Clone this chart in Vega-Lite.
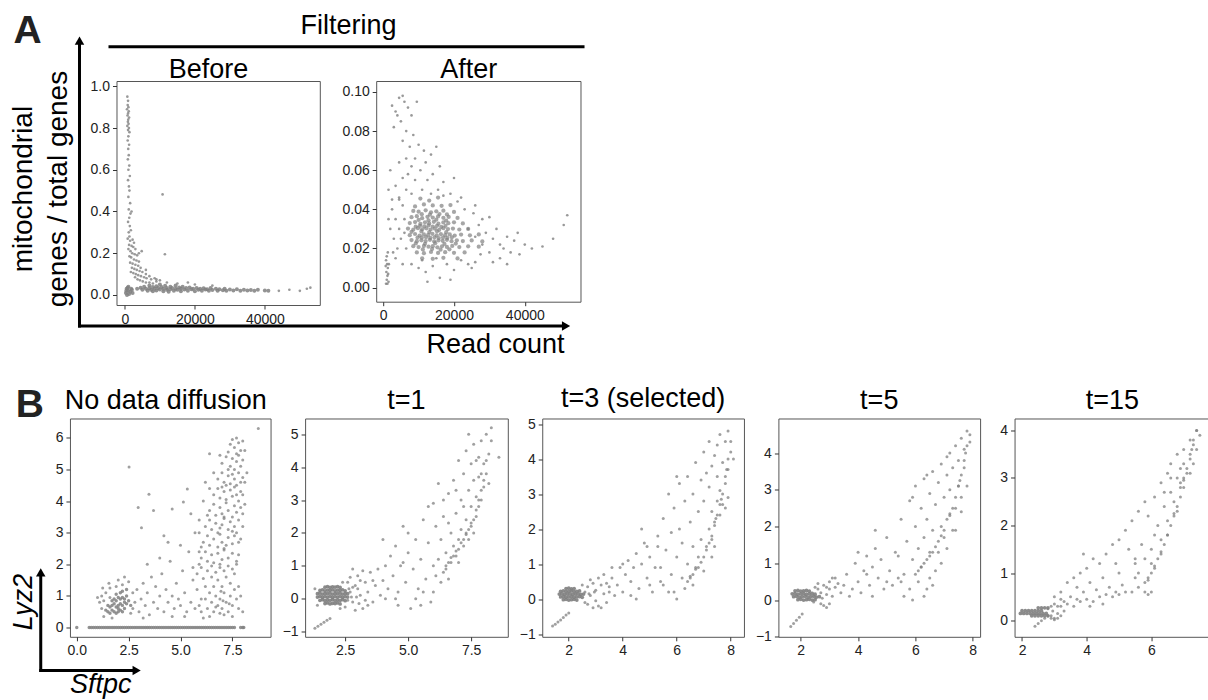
{
"$schema": "https://vega.github.io/schema/vega-lite/v6.json",
"background": "white",
"padding": {"left": 8.8, "top": 11, "right": 0, "bottom": 0},
"config": {
 "view": {"stroke": "#555", "strokeWidth": 1},
 "axis": {"grid": false, "domain": false, "labelFont": "Liberation Sans", "labelFontSize": 14, "labelColor": "#222", "tickColor": "#333", "tickSize": 4, "labelPadding": 3},
 "title": {"font": "Liberation Sans", "fontSize": 27, "fontWeight": "normal", "color": "#000", "frame": "group", "anchor": "middle"},
 "text": {"font": "Liberation Sans", "color": "#000"}
},
"datasets": {
 "bef_s": [{"x":700,"y":0.95},{"x":900,"y":0.93},{"x":800,"y":0.91},{"x":1000,"y":0.9},{"x":600,"y":0.89},{"x":1100,"y":0.88},{"x":900,"y":0.87},{"x":750,"y":0.86},{"x":1200,"y":0.85},{"x":950,"y":0.84},{"x":850,"y":0.83},{"x":1050,"y":0.82},{"x":700,"y":0.81},{"x":1150,"y":0.8},{"x":900,"y":0.79},{"x":1300,"y":0.78},{"x":1000,"y":0.76},{"x":800,"y":0.74},{"x":1200,"y":0.72},{"x":950,"y":0.7},{"x":1100,"y":0.67},{"x":850,"y":0.65},{"x":1250,"y":0.62},{"x":1000,"y":0.6},{"x":1400,"y":0.57},{"x":900,"y":0.55},{"x":1150,"y":0.52},{"x":1300,"y":0.5},{"x":1000,"y":0.47},{"x":1500,"y":0.44},{"x":1100,"y":0.41},{"x":1600,"y":0.39},{"x":1250,"y":0.37},{"x":900,"y":0.35},{"x":1400,"y":0.33},{"x":1700,"y":0.31},{"x":1100,"y":0.3},{"x":1300,"y":0.28},{"x":1900,"y":0.4},
 {"x":800,"y":0.27},{"x":1500,"y":0.26},{"x":2200,"y":0.265},{"x":2600,"y":0.25},{"x":1200,"y":0.24},{"x":1900,"y":0.235},{"x":2400,"y":0.23},{"x":1000,"y":0.22},{"x":3000,"y":0.22},{"x":1600,"y":0.21},{"x":2100,"y":0.2},{"x":2800,"y":0.195},{"x":3500,"y":0.19},{"x":1300,"y":0.185},{"x":1800,"y":0.18},{"x":2600,"y":0.17},{"x":3300,"y":0.165},{"x":4000,"y":0.16},{"x":1500,"y":0.155},{"x":2200,"y":0.15},{"x":3000,"y":0.145},{"x":3800,"y":0.14},{"x":4500,"y":0.13},{"x":2000,"y":0.13},{"x":2700,"y":0.125},{"x":3400,"y":0.12},{"x":4200,"y":0.115},{"x":5000,"y":0.11},{"x":1700,"y":0.11},{"x":2400,"y":0.105},{"x":3100,"y":0.1},{"x":3800,"y":0.095},{"x":4600,"y":0.09},{"x":5500,"y":0.085},{"x":6200,"y":0.08},{"x":2900,"y":0.085},{"x":3600,"y":0.075},{"x":4300,"y":0.07},{"x":5100,"y":0.065},{"x":6000,"y":0.06},{"x":7000,"y":0.06},{"x":8000,"y":0.055},{"x":4000,"y":0.2},{"x":4800,"y":0.21},{"x":6000,"y":0.1},{"x":7500,"y":0.075},{"x":9000,"y":0.065},{"x":10000,"y":0.07},
 {"x":12000,"y":0.06},{"x":15000,"y":0.055},{"x":9000,"y":0.075},{"x":20000,"y":0.05},{"x":25000,"y":0.045},{"x":18000,"y":0.06},{"x":7000,"y":0.09},{"x":6000,"y":0.12},{"x":8500,"y":0.08},{"x":10770,"y":0.482},{"x":11430,"y":0.195},{"x":44000,"y":0.02},{"x":47000,"y":0.025},{"x":50000,"y":0.02},{"x":52000,"y":0.03},{"x":53000,"y":0.035}],
 "bef_c": [{"x":300,"y":0.01},{"x":600,"y":0.0},{"x":900,"y":0.02},{"x":1200,"y":0.005},{"x":500,"y":0.03},{"x":1500,"y":0.015},{"x":800,"y":0.035},{"x":1800,"y":0.03},{"x":2200,"y":0.01},{"x":400,"y":0.02},{"x":1000,"y":0.04},{"x":2000,"y":0.025},
 {"x":3500,"y":0.03},{"x":4500,"y":0.035},{"x":5000,"y":0.025},{"x":5500,"y":0.04},{"x":6000,"y":0.03},{"x":6500,"y":0.02},{"x":7000,"y":0.045},{"x":7000,"y":0.032},{"x":7500,"y":0.025},{"x":8000,"y":0.038},{"x":8000,"y":0.018},{"x":8500,"y":0.03},{"x":9000,"y":0.042},{"x":9000,"y":0.022},{"x":9500,"y":0.034},{"x":10000,"y":0.05},{"x":10000,"y":0.026},{"x":10500,"y":0.038},{"x":11000,"y":0.018},{"x":11000,"y":0.03},{"x":11500,"y":0.044},{"x":12000,"y":0.025},{"x":12000,"y":0.034},{"x":12500,"y":0.015},{"x":13000,"y":0.04},{"x":13000,"y":0.028},{"x":13500,"y":0.034},{"x":14000,"y":0.02},{"x":14500,"y":0.045},{"x":14500,"y":0.03},{"x":15000,"y":0.025},{"x":15500,"y":0.036},{"x":16000,"y":0.018},{"x":16000,"y":0.03},{"x":16500,"y":0.04},{"x":17000,"y":0.026},{"x":17500,"y":0.033},{"x":18000,"y":0.02},{"x":18500,"y":0.036},{"x":19000,"y":0.027},{"x":19500,"y":0.03},{"x":20000,"y":0.018},{"x":20500,"y":0.034},{"x":21000,"y":0.025},{"x":21500,"y":0.03},{"x":22000,"y":0.02},{"x":22500,"y":0.032},{"x":23000,"y":0.026},{"x":23500,"y":0.028},{"x":24000,"y":0.02},{"x":24500,"y":0.033},{"x":25000,"y":0.024},{"x":26000,"y":0.03},{"x":26500,"y":0.02},{"x":27000,"y":0.027},{"x":28000,"y":0.023},{"x":28500,"y":0.03},{"x":29000,"y":0.02},{"x":30000,"y":0.026},{"x":31000,"y":0.022},{"x":32000,"y":0.028},{"x":33000,"y":0.02},{"x":34000,"y":0.025},{"x":35000,"y":0.022},{"x":36000,"y":0.024},{"x":37000,"y":0.02},{"x":38000,"y":0.025},{"x":40000,"y":0.022},{"x":41000,"y":0.02}],
 "aft_s": [{"x":2500,"y":0.093},{"x":3500,"y":0.09},{"x":4500,"y":0.097},{"x":5500,"y":0.098},{"x":6000,"y":0.095},{"x":4000,"y":0.088},{"x":7000,"y":0.092},{"x":5000,"y":0.085},{"x":9500,"y":0.095},{"x":8000,"y":0.088},{"x":3000,"y":0.082},{"x":6500,"y":0.08},{"x":5500,"y":0.075},{"x":8500,"y":0.078},{"x":7500,"y":0.072},{"x":10000,"y":0.073},{"x":11500,"y":0.07},{"x":15000,"y":0.072},{"x":13500,"y":0.068},{"x":9000,"y":0.066},{"x":6500,"y":0.066},{"x":4500,"y":0.064},{"x":12000,"y":0.064},{"x":8000,"y":0.062},{"x":10500,"y":0.06},{"x":7000,"y":0.058},{"x":14000,"y":0.058},{"x":5500,"y":0.056},{"x":9000,"y":0.055},{"x":12500,"y":0.055},{"x":17000,"y":0.054},{"x":3500,"y":0.052},{"x":6500,"y":0.05},{"x":11000,"y":0.05},{"x":15500,"y":0.05},{"x":19000,"y":0.048},{"x":8000,"y":0.048},{"x":4500,"y":0.046},{"x":13500,"y":0.048},{"x":22000,"y":0.046},{"x":17000,"y":0.047},{"x":2000,"y":0.06},{"x":16000,"y":0.062},{"x":20000,"y":0.056},{"x":2500,"y":0.045},
 {"x":1500,"y":0.05},{"x":2500,"y":0.04},{"x":3500,"y":0.035},{"x":4500,"y":0.03},{"x":5500,"y":0.042},{"x":2000,"y":0.03},{"x":3000,"y":0.025},{"x":4000,"y":0.02},{"x":5000,"y":0.025},{"x":6000,"y":0.035},{"x":6500,"y":0.02},{"x":3500,"y":0.015},{"x":5500,"y":0.012},{"x":1500,"y":0.035},{"x":2800,"y":0.018},{"x":4500,"y":0.045},{"x":6000,"y":0.028},
 {"x":800,"y":0.002},{"x":1000,"y":0.004},{"x":1200,"y":0.006},{"x":900,"y":0.008},{"x":1300,"y":0.01},{"x":1100,"y":0.012},{"x":800,"y":0.014},{"x":1500,"y":0.003},{"x":1000,"y":0.016},{"x":1400,"y":0.007},{"x":700,"y":0.011},{"x":1200,"y":0.002},{"x":1600,"y":0.012},{"x":1300,"y":0.018},
 {"x":8000,"y":0.012},{"x":10000,"y":0.01},{"x":12000,"y":0.008},{"x":14000,"y":0.011},{"x":16000,"y":0.005},{"x":18000,"y":0.012},{"x":20000,"y":0.009},{"x":22000,"y":0.014},{"x":24000,"y":0.012},{"x":26000,"y":0.013},{"x":15000,"y":0.015},{"x":11000,"y":0.014},{"x":19000,"y":0.004},{"x":25000,"y":0.01},{"x":12500,"y":0.003},
 {"x":24000,"y":0.03},{"x":26000,"y":0.026},{"x":27000,"y":0.032},{"x":28000,"y":0.022},{"x":29000,"y":0.028},{"x":30000,"y":0.018},{"x":31000,"y":0.025},{"x":32000,"y":0.03},{"x":33000,"y":0.022},{"x":34000,"y":0.02},{"x":35000,"y":0.026},{"x":36000,"y":0.018},{"x":37000,"y":0.024},{"x":38000,"y":0.028},{"x":40000,"y":0.022},{"x":42000,"y":0.02},{"x":45000,"y":0.021},{"x":48000,"y":0.025},{"x":51000,"y":0.032},{"x":52000,"y":0.037},{"x":25500,"y":0.038},{"x":28000,"y":0.035},{"x":30000,"y":0.036},{"x":33000,"y":0.015},{"x":23000,"y":0.04},{"x":26000,"y":0.042},{"x":21000,"y":0.044},{"x":27500,"y":0.017},{"x":35000,"y":0.012},{"x":38500,"y":0.017},{"x":31000,"y":0.013}],
 "aft_c": [{"x":10500,"y":0.0455},{"x":13000,"y":0.0445},{"x":15500,"y":0.046},
 {"x":9000,"y":0.0415},{"x":11500,"y":0.0425},{"x":14000,"y":0.042},{"x":16500,"y":0.0418},{"x":19000,"y":0.0422},
 {"x":8500,"y":0.0392},{"x":10000,"y":0.0388},{"x":12000,"y":0.0395},{"x":13500,"y":0.0385},{"x":15000,"y":0.039},{"x":17000,"y":0.0393},{"x":20000,"y":0.0387},
 {"x":10900,"y":0.0375},{"x":13200,"y":0.0373},{"x":15900,"y":0.0376},{"x":18000,"y":0.0374},
 {"x":8000,"y":0.036},{"x":9500,"y":0.0365},{"x":11000,"y":0.0355},{"x":12500,"y":0.0362},{"x":14000,"y":0.0358},{"x":15500,"y":0.0364},{"x":17000,"y":0.0357},{"x":18500,"y":0.0361},{"x":21000,"y":0.0356},
 {"x":10000,"y":0.0346},{"x":12800,"y":0.0344},{"x":15000,"y":0.0347},{"x":17800,"y":0.0343},
 {"x":7500,"y":0.033},{"x":9000,"y":0.0335},{"x":10500,"y":0.0326},{"x":11800,"y":0.0334},{"x":13000,"y":0.0328},{"x":14300,"y":0.0336},{"x":15600,"y":0.0327},{"x":17000,"y":0.0333},{"x":18400,"y":0.0329},{"x":20000,"y":0.0334},{"x":22500,"y":0.0328},
 {"x":11600,"y":0.0313},{"x":12800,"y":0.0318},{"x":14000,"y":0.0312},{"x":15200,"y":0.0316},{"x":16400,"y":0.0311},{"x":10400,"y":0.0316},{"x":9200,"y":0.0312},{"x":17600,"y":0.0316},
 {"x":7000,"y":0.0302},{"x":8500,"y":0.0296},{"x":9800,"y":0.0304},{"x":11000,"y":0.0298},{"x":12200,"y":0.0303},{"x":13400,"y":0.0297},{"x":14600,"y":0.0301},{"x":15800,"y":0.0295},{"x":17000,"y":0.0304},{"x":18300,"y":0.0299},{"x":19700,"y":0.0302},{"x":21500,"y":0.0297},{"x":24000,"y":0.03},
 {"x":8000,"y":0.0285},{"x":10800,"y":0.0287},{"x":13000,"y":0.0284},{"x":15200,"y":0.0288},{"x":17800,"y":0.0283},
 {"x":7500,"y":0.0268},{"x":9000,"y":0.0274},{"x":10300,"y":0.0266},{"x":11500,"y":0.0272},{"x":12700,"y":0.0269},{"x":13900,"y":0.0275},{"x":15100,"y":0.0267},{"x":16300,"y":0.0273},{"x":17500,"y":0.0268},{"x":18800,"y":0.0272},{"x":20200,"y":0.0266},{"x":22000,"y":0.0271},{"x":24500,"y":0.0267},{"x":27000,"y":0.0272},
 {"x":10900,"y":0.0255},{"x":12100,"y":0.0258},{"x":13300,"y":0.0254},{"x":14500,"y":0.0257},{"x":15700,"y":0.0253},{"x":16900,"y":0.0256},{"x":18100,"y":0.0254},{"x":19400,"y":0.0257},{"x":9700,"y":0.0256},
 {"x":8000,"y":0.0243},{"x":9500,"y":0.0237},{"x":10800,"y":0.0242},{"x":12000,"y":0.0238},{"x":13200,"y":0.0244},{"x":14400,"y":0.0236},{"x":15600,"y":0.0241},{"x":16800,"y":0.0239},{"x":18000,"y":0.0244},{"x":19300,"y":0.0237},{"x":20800,"y":0.0242},{"x":22500,"y":0.0238},{"x":25000,"y":0.0241},{"x":28000,"y":0.0236},
 {"x":9200,"y":0.0226},{"x":11800,"y":0.0224},{"x":14700,"y":0.0227},{"x":17300,"y":0.0223},{"x":20500,"y":0.0225},
 {"x":8500,"y":0.0212},{"x":10000,"y":0.0207},{"x":11500,"y":0.0213},{"x":12800,"y":0.0209},{"x":14000,"y":0.0212},{"x":15300,"y":0.0206},{"x":16600,"y":0.0211},{"x":18000,"y":0.0208},{"x":19500,"y":0.0213},{"x":21500,"y":0.0207},{"x":24000,"y":0.0211},{"x":27000,"y":0.0209},
 {"x":11200,"y":0.0195},{"x":13800,"y":0.0197},{"x":16200,"y":0.0194},{"x":18700,"y":0.0196},
 {"x":9500,"y":0.018},{"x":11500,"y":0.0176},{"x":13500,"y":0.0182},{"x":15500,"y":0.0177},{"x":17500,"y":0.0181},{"x":20000,"y":0.0178},{"x":23000,"y":0.018},
 {"x":11000,"y":0.015},{"x":14000,"y":0.0147},{"x":17000,"y":0.0152},{"x":21000,"y":0.0149}],
 "p1_s": [{"x":1.1,"y":0.8},{"x":1.2,"y":1.0},{"x":1.3,"y":0.85},{"x":1.2,"y":0.6},{"x":1.4,"y":1.1},{"x":1.6,"y":1.25},{"x":1.6,"y":0.95},{"x":1.9,"y":1.3},{"x":2.2,"y":1.35},{"x":2.5,"y":1.45},{"x":2.7,"y":0.6},{"x":2.7,"y":1.1},{"x":2.8,"y":0.8},{"x":1.3,"y":0.35},{"x":1.7,"y":0.3},{"x":2.6,"y":0.45},{"x":1.0,"y":0.95},{"x":2.3,"y":1.6},{"x":2.0,"y":1.5},{"x":1.55,"y":1.4},{"x":1.25,"y":1.25},
 {"x":2.9,"y":1.2},{"x":3.0,"y":0.5},{"x":3.1,"y":0.9},{"x":3.2,"y":1.4},{"x":3.3,"y":0.7},{"x":3.4,"y":1.1},{"x":3.5,"y":0.4},{"x":3.6,"y":1.6},{"x":3.7,"y":0.8},{"x":3.8,"y":1.3},{"x":3.9,"y":0.6},{"x":4.0,"y":1.0},{"x":4.1,"y":1.7},{"x":4.2,"y":0.5},{"x":4.3,"y":1.2},{"x":4.4,"y":0.8},{"x":4.5,"y":2.1},{"x":4.6,"y":1.0},{"x":4.7,"y":0.6},{"x":4.8,"y":1.4},{"x":4.9,"y":0.9},{"x":5.0,"y":0.7},{"x":5.1,"y":1.8},{"x":5.2,"y":1.1},{"x":5.3,"y":0.5},{"x":5.4,"y":2.4},{"x":5.5,"y":0.8},{"x":5.6,"y":1.5},{"x":5.7,"y":0.6},{"x":5.8,"y":1.2},{"x":5.9,"y":2.0},{"x":6.0,"y":0.9},{"x":4.4,"y":2.7},{"x":5.0,"y":2.6},{"x":3.4,"y":2.0},{"x":4.0,"y":2.2},{"x":5.7,"y":3.0},{"x":5.5,"y":3.6},{"x":5.9,"y":3.4},{"x":4.2,"y":2.9},{"x":4.6,"y":0.35},{"x":3.2,"y":0.3},{"x":5.2,"y":0.35},
 {"x":8.75,"y":6.3},{"x":2.52,"y":5.08},{"x":3.48,"y":4.22},{"x":2.96,"y":3.8},{"x":5.14,"y":3.97},{"x":3.12,"y":3.16},{"x":5.33,"y":4.38},{"x":3.7,"y":3.7},{"x":4.6,"y":3.75},
 {"x":6.3,"y":0.6},{"x":6.5,"y":0.8},{"x":6.6,"y":0.5},{"x":6.7,"y":1.0},{"x":6.8,"y":0.7},{"x":6.9,"y":0.9},{"x":7.0,"y":0.6},{"x":7.1,"y":1.1},{"x":7.2,"y":0.8},{"x":7.3,"y":0.5},{"x":7.4,"y":1.0},{"x":7.5,"y":0.7},{"x":7.6,"y":1.2},{"x":6.4,"y":1.1},{"x":6.6,"y":1.3},{"x":6.8,"y":1.5},{"x":7.0,"y":1.3},{"x":7.2,"y":1.6},{"x":7.4,"y":1.4},{"x":6.2,"y":0.9},{"x":6.9,"y":0.45},{"x":7.7,"y":0.9},{"x":6.5,"y":1.6},{"x":7.6,"y":1.7},{"x":7.8,"y":1.3},{"x":6.7,"y":0.65},{"x":7.05,"y":0.85},{"x":7.35,"y":0.75},{"x":6.95,"y":1.15},
 {"x":7.4,"y":5.8},{"x":7.5,"y":5.95},{"x":7.6,"y":5.7},{"x":7.7,"y":6.0},{"x":7.8,"y":5.85},{"x":7.9,"y":5.6},{"x":7.7,"y":5.5},{"x":7.3,"y":5.55},{"x":8.0,"y":5.9},
 {"x":7.0,"y":5.2},{"x":7.2,"y":5.4},{"x":7.4,"y":5.1},{"x":7.5,"y":5.35},{"x":7.6,"y":5.0},{"x":7.7,"y":5.25},{"x":7.8,"y":5.45},{"x":7.9,"y":5.1},{"x":8.0,"y":5.3},{"x":7.3,"y":5.0},{"x":6.9,"y":5.45},
 {"x":6.8,"y":4.7},{"x":7.0,"y":4.9},{"x":7.1,"y":4.6},{"x":7.3,"y":4.8},{"x":7.4,"y":4.55},{"x":7.5,"y":4.85},{"x":7.6,"y":4.7},{"x":7.7,"y":4.5},{"x":7.8,"y":4.9},{"x":7.9,"y":4.6},{"x":8.0,"y":4.75},{"x":7.2,"y":4.5},{"x":6.6,"y":4.9},
 {"x":6.6,"y":4.2},{"x":6.8,"y":4.4},{"x":6.9,"y":4.1},{"x":7.1,"y":4.3},{"x":7.2,"y":4.05},{"x":7.4,"y":4.35},{"x":7.5,"y":4.15},{"x":7.6,"y":4.45},{"x":7.7,"y":4.2},{"x":7.8,"y":4.0},{"x":7.9,"y":4.3},{"x":7.0,"y":4.45},{"x":6.4,"y":4.4},{"x":8.0,"y":4.2},
 {"x":6.4,"y":3.7},{"x":6.6,"y":3.9},{"x":6.7,"y":3.55},{"x":6.9,"y":3.8},{"x":7.0,"y":3.6},{"x":7.2,"y":3.95},{"x":7.3,"y":3.7},{"x":7.5,"y":3.5},{"x":7.6,"y":3.85},{"x":7.7,"y":3.65},{"x":7.9,"y":3.8},{"x":6.3,"y":3.55},{"x":7.1,"y":3.5},{"x":8.0,"y":3.6},
 {"x":6.2,"y":3.2},{"x":6.4,"y":3.4},{"x":6.5,"y":3.1},{"x":6.7,"y":3.3},{"x":6.8,"y":3.0},{"x":7.0,"y":3.25},{"x":7.1,"y":3.45},{"x":7.3,"y":3.1},{"x":7.4,"y":3.35},{"x":7.6,"y":3.2},{"x":7.7,"y":3.0},{"x":7.8,"y":3.4},{"x":6.9,"y":3.15},{"x":7.5,"y":3.05},
 {"x":6.1,"y":2.7},{"x":6.3,"y":2.9},{"x":6.4,"y":2.6},{"x":6.6,"y":2.8},{"x":6.8,"y":2.55},{"x":6.9,"y":2.95},{"x":7.0,"y":2.7},{"x":7.2,"y":2.6},{"x":7.3,"y":2.85},{"x":7.5,"y":2.65},{"x":7.6,"y":2.9},{"x":7.8,"y":2.7},{"x":6.0,"y":2.55},{"x":7.1,"y":2.5},
 {"x":6.0,"y":2.2},{"x":6.2,"y":2.4},{"x":6.3,"y":2.1},{"x":6.5,"y":2.3},{"x":6.6,"y":2.05},{"x":6.8,"y":2.35},{"x":7.0,"y":2.15},{"x":7.1,"y":2.45},{"x":7.3,"y":2.2},{"x":7.5,"y":2.35},{"x":7.7,"y":2.1},{"x":5.9,"y":2.4},{"x":6.9,"y":2.0},
 {"x":5.8,"y":1.7},{"x":6.0,"y":1.9},{"x":6.1,"y":1.55},{"x":6.3,"y":1.8},{"x":6.5,"y":1.95},{"x":6.7,"y":1.75},{"x":6.9,"y":1.9},{"x":7.1,"y":1.8},{"x":7.3,"y":1.95},{"x":7.5,"y":1.85},{"x":7.7,"y":2.0},{"x":5.6,"y":1.9},
 {"x":6.0,"y":0.5},{"x":6.1,"y":0.3},{"x":6.4,"y":0.35},{"x":7.1,"y":0.4},{"x":7.5,"y":0.35},{"x":7.8,"y":0.6},{"x":7.9,"y":1.0},{"x":8.0,"y":0.5},{"x":5.9,"y":0.7},{"x":6.2,"y":1.3},{"x":7.8,"y":2.3},{"x":7.9,"y":2.8},{"x":8.0,"y":3.2},{"x":8.1,"y":3.9},{"x":8.1,"y":4.6},{"x":8.2,"y":4.9},{"x":8.1,"y":5.6},{"x":6.4,"y":5.5},{"x":6.2,"y":4.6},{"x":6.1,"y":4.0},{"x":5.9,"y":3.0}],
 "p1_c": [{"x":0,"y":0},{"x":0.6,"y":0},{"x":0.7,"y":0},{"x":0.8,"y":0},{"x":0.9,"y":0},{"x":1,"y":0},{"x":1.1,"y":0},{"x":1.2,"y":0},{"x":1.3,"y":0},{"x":1.4,"y":0},{"x":1.5,"y":0},{"x":1.6,"y":0},{"x":1.7,"y":0},{"x":1.8,"y":0},{"x":1.9,"y":0},{"x":2,"y":0},{"x":2.1,"y":0},{"x":2.2,"y":0},{"x":2.3,"y":0},{"x":2.4,"y":0},{"x":2.5,"y":0},{"x":2.6,"y":0},{"x":2.7,"y":0},{"x":2.8,"y":0},{"x":2.9,"y":0},{"x":3,"y":0},{"x":3.1,"y":0},{"x":3.2,"y":0},{"x":3.3,"y":0},{"x":3.4,"y":0},{"x":3.5,"y":0},{"x":3.6,"y":0},{"x":3.7,"y":0},{"x":3.8,"y":0},{"x":3.9,"y":0},{"x":4,"y":0},{"x":4.1,"y":0},{"x":4.2,"y":0},{"x":4.3,"y":0},{"x":4.4,"y":0},{"x":4.5,"y":0},{"x":4.6,"y":0},{"x":4.7,"y":0},{"x":4.8,"y":0},{"x":4.9,"y":0},{"x":5,"y":0},{"x":5.1,"y":0},{"x":5.2,"y":0},{"x":5.3,"y":0},{"x":5.4,"y":0},{"x":5.5,"y":0},{"x":5.6,"y":0},{"x":5.7,"y":0},{"x":5.8,"y":0},{"x":5.9,"y":0},{"x":6,"y":0},{"x":6.1,"y":0},{"x":6.2,"y":0},{"x":6.3,"y":0},{"x":6.4,"y":0},{"x":6.5,"y":0},{"x":6.6,"y":0},{"x":6.7,"y":0},{"x":6.8,"y":0},{"x":6.9,"y":0},{"x":7,"y":0},{"x":7.1,"y":0},{"x":7.2,"y":0},{"x":7.3,"y":0},{"x":7.4,"y":0},{"x":7.5,"y":0},{"x":7.6,"y":0},{"x":7.9,"y":0},{"x":8.0,"y":0},{"x":8.05,"y":0},
 {"x":1.5,"y":0.5},{"x":1.6,"y":0.45},{"x":1.7,"y":0.55},{"x":1.8,"y":0.5},{"x":1.9,"y":0.45},{"x":2.0,"y":0.5},{"x":2.1,"y":0.55},{"x":2.2,"y":0.5},{"x":2.3,"y":0.6},{"x":1.6,"y":0.65},{"x":1.7,"y":0.7},{"x":1.8,"y":0.75},{"x":1.9,"y":0.65},{"x":2.0,"y":0.7},{"x":2.1,"y":0.75},{"x":2.2,"y":0.7},{"x":2.3,"y":0.8},{"x":2.4,"y":0.75},{"x":1.8,"y":0.9},{"x":1.9,"y":0.85},{"x":2.0,"y":0.95},{"x":2.1,"y":0.9},{"x":2.2,"y":0.95},{"x":2.3,"y":0.9},{"x":2.4,"y":1.0},{"x":2.5,"y":0.85},{"x":1.9,"y":1.05},{"x":2.1,"y":1.1},{"x":2.2,"y":1.15},{"x":2.4,"y":1.2},{"x":1.7,"y":0.85},{"x":2.0,"y":0.6},{"x":2.6,"y":0.7},{"x":1.5,"y":0.7},{"x":1.4,"y":0.55}],
 "p2_s": [{"x":2.6,"y":0.5},{"x":2.7,"y":0.2},{"x":2.8,"y":-0.1},{"x":2.9,"y":0.4},{"x":3.0,"y":0.7},{"x":3.1,"y":0.1},{"x":3.2,"y":-0.3},{"x":3.3,"y":0.5},{"x":3.4,"y":0.2},{"x":3.5,"y":0.8},{"x":3.6,"y":-0.1},{"x":3.7,"y":0.4},{"x":3.8,"y":0.9},{"x":3.9,"y":0.1},{"x":2.5,"y":-0.25},{"x":2.7,"y":0.65},{"x":2.9,"y":-0.35},{"x":3.0,"y":0.3},{"x":3.2,"y":0.85},{"x":2.6,"y":-0.05},{"x":2.8,"y":0.35},{"x":3.4,"y":-0.2},{"x":2.4,"y":0.5},{"x":2.3,"y":-0.3},{"x":1.4,"y":-0.2},{"x":1.3,"y":0.3},{"x":2.8,"y":0.9},{"x":3.1,"y":0.55},{"x":4.0,"y":0.55},{"x":4.1,"y":1.0},{"x":3.6,"y":0.55},{"x":3.3,"y":-0.05},{"x":2.95,"y":0.05},{"x":2.65,"y":0.3},{"x":2.75,"y":0.05},{"x":3.05,"y":-0.15},
 {"x":1.3,"y":-0.9},{"x":1.42,"y":-0.84},{"x":1.54,"y":-0.78},{"x":1.66,"y":-0.72},{"x":1.78,"y":-0.66},{"x":1.9,"y":-0.6},
 {"x":4.2,"y":0.3},{"x":4.3,"y":1.3},{"x":4.4,"y":0.7},{"x":4.5,"y":1.6},{"x":4.6,"y":0.2},{"x":4.7,"y":1.0},{"x":4.8,"y":2.2},{"x":4.9,"y":0.5},{"x":5.0,"y":1.4},{"x":5.1,"y":-0.3},{"x":5.2,"y":0.9},{"x":5.3,"y":1.8},{"x":5.4,"y":0.3},{"x":5.5,"y":1.2},{"x":5.6,"y":2.4},{"x":5.7,"y":0.6},{"x":5.8,"y":1.7},{"x":5.9,"y":-0.1},{"x":6.0,"y":1.0},{"x":4.5,"y":0.0},{"x":4.0,"y":1.8},{"x":5.0,"y":2.0},{"x":5.5,"y":-0.2},{"x":4.8,"y":1.1},{"x":5.3,"y":0.0},{"x":5.8,"y":2.8},{"x":5.6,"y":0.2},{"x":4.1,"y":0.0},{"x":4.6,"y":-0.2},
 {"x":6.0,"y":0.2},{"x":6.1,"y":0.7},{"x":6.2,"y":1.2},{"x":6.3,"y":0.5},{"x":6.3,"y":1.8},{"x":6.4,"y":2.5},{"x":6.5,"y":0.9},{"x":6.5,"y":1.4},{"x":6.6,"y":3.2},{"x":6.6,"y":0.6},{"x":6.7,"y":1.1},{"x":6.7,"y":2.0},{"x":6.8,"y":1.6},{"x":6.8,"y":3.6},{"x":6.9,"y":1.3},{"x":6.9,"y":2.6},{"x":7.0,"y":1.8},{"x":7.0,"y":4.2},{"x":7.0,"y":1.1},{"x":7.1,"y":2.1},{"x":7.1,"y":3.0},{"x":7.2,"y":1.6},{"x":7.2,"y":3.8},{"x":7.3,"y":2.0},{"x":7.3,"y":2.4},{"x":7.3,"y":4.5},{"x":7.4,"y":1.8},{"x":7.4,"y":3.3},{"x":7.5,"y":2.2},{"x":7.5,"y":4.1},{"x":7.5,"y":2.8},{"x":7.6,"y":2.0},{"x":7.6,"y":3.6},{"x":7.6,"y":4.7},{"x":7.7,"y":2.5},{"x":7.7,"y":3.1},{"x":7.8,"y":2.8},{"x":7.8,"y":4.3},{"x":7.8,"y":3.7},{"x":7.9,"y":3.0},{"x":7.9,"y":4.8},{"x":8.0,"y":3.4},{"x":8.0,"y":4.1},{"x":8.1,"y":3.8},{"x":8.1,"y":5.0},{"x":8.2,"y":4.4},{"x":8.3,"y":4.8},{"x":8.3,"y":5.2},{"x":8.6,"y":4.3},{"x":6.0,"y":2.9},{"x":6.2,"y":3.5},{"x":6.4,"y":3.0},{"x":6.9,"y":3.3},{"x":7.4,"y":5.0},{"x":7.7,"y":4.2},{"x":6.1,"y":2.2},{"x":6.6,"y":2.3},{"x":7.2,"y":2.8},{"x":7.9,"y":3.8},{"x":8.2,"y":3.5},
 {"x":6.4,"y":0.8},{"x":6.6,"y":1.1},{"x":6.8,"y":1.3},{"x":7.0,"y":1.5},{"x":7.2,"y":1.8},{"x":7.4,"y":2.1},{"x":7.6,"y":2.4},{"x":7.8,"y":3.0},{"x":8.0,"y":3.6},{"x":8.1,"y":4.2},{"x":6.5,"y":1.0},{"x":6.7,"y":1.25},{"x":6.9,"y":1.45},{"x":7.1,"y":1.7},{"x":7.3,"y":1.95},{"x":7.5,"y":2.3},{"x":7.7,"y":2.7},{"x":7.9,"y":3.3}],
 "p2_c": [{"x":1.7,"y":0.35},{"x":1.8,"y":0.37},{"x":1.9,"y":0.34},{"x":2.0,"y":0.36},{"x":2.1,"y":0.35},{"x":2.2,"y":0.37},{"x":2.3,"y":0.34},
 {"x":1.5,"y":0.25},{"x":1.6,"y":0.27},{"x":1.7,"y":0.24},{"x":1.8,"y":0.26},{"x":1.9,"y":0.25},{"x":2.0,"y":0.27},{"x":2.1,"y":0.24},{"x":2.2,"y":0.26},{"x":2.3,"y":0.25},{"x":2.4,"y":0.27},{"x":2.5,"y":0.24},
 {"x":1.4,"y":0.15},{"x":1.5,"y":0.17},{"x":1.6,"y":0.14},{"x":1.7,"y":0.16},{"x":1.8,"y":0.15},{"x":1.9,"y":0.17},{"x":2.0,"y":0.14},{"x":2.1,"y":0.16},{"x":2.2,"y":0.15},{"x":2.3,"y":0.17},{"x":2.4,"y":0.14},{"x":2.5,"y":0.16},{"x":2.6,"y":0.15},
 {"x":1.4,"y":0.05},{"x":1.5,"y":0.07},{"x":1.6,"y":0.04},{"x":1.7,"y":0.06},{"x":1.8,"y":0.05},{"x":1.9,"y":0.07},{"x":2.0,"y":0.04},{"x":2.1,"y":0.06},{"x":2.2,"y":0.05},{"x":2.3,"y":0.07},{"x":2.4,"y":0.04},{"x":2.5,"y":0.06},{"x":2.6,"y":0.05},
 {"x":1.5,"y":-0.05},{"x":1.6,"y":-0.03},{"x":1.7,"y":-0.06},{"x":1.8,"y":-0.04},{"x":1.9,"y":-0.05},{"x":2.0,"y":-0.03},{"x":2.1,"y":-0.06},{"x":2.2,"y":-0.04},{"x":2.3,"y":-0.05},{"x":2.4,"y":-0.03},{"x":2.5,"y":-0.06},
 {"x":1.7,"y":-0.15},{"x":1.8,"y":-0.13},{"x":1.9,"y":-0.16},{"x":2.0,"y":-0.14},{"x":2.1,"y":-0.15},{"x":2.2,"y":-0.13},{"x":2.3,"y":-0.16}],
 "p3_s": [{"x":2.6,"y":0.2},{"x":2.7,"y":0.35},{"x":2.8,"y":0.1},{"x":2.9,"y":0.45},{"x":3.0,"y":-0.05},{"x":3.0,"y":0.25},{"x":3.1,"y":0.6},{"x":3.1,"y":-0.2},{"x":3.2,"y":0.4},{"x":3.3,"y":0.15},{"x":3.3,"y":0.7},{"x":3.4,"y":-0.1},{"x":3.5,"y":0.35},{"x":2.7,"y":-0.15},{"x":2.9,"y":-0.25},{"x":2.6,"y":-0.1},{"x":2.8,"y":0.55},{"x":3.6,"y":0.6},{"x":3.7,"y":0.1},{"x":2.5,"y":0.4},{"x":3.2,"y":-0.25},{"x":2.75,"y":0.15},{"x":2.95,"y":0.2},{"x":3.4,"y":0.45},
 {"x":1.4,"y":-0.77},{"x":1.5,"y":-0.72},{"x":1.6,"y":-0.66},{"x":1.7,"y":-0.6},{"x":1.8,"y":-0.53},{"x":1.9,"y":-0.46},{"x":2.0,"y":-0.4},
 {"x":3.8,"y":0.4},{"x":3.9,"y":0.9},{"x":4.0,"y":0.2},{"x":4.1,"y":0.7},{"x":4.2,"y":1.1},{"x":4.3,"y":0.5},{"x":4.4,"y":0.9},{"x":4.5,"y":1.3},{"x":4.6,"y":0.3},{"x":4.7,"y":1.0},{"x":4.8,"y":1.6},{"x":4.9,"y":0.6},{"x":5.0,"y":1.2},{"x":5.1,"y":0.2},{"x":5.2,"y":0.9},{"x":5.3,"y":1.5},{"x":4.0,"y":1.0},{"x":4.5,"y":0.0},{"x":5.0,"y":0.4},{"x":4.7,"y":2.0},{"x":3.6,"y":0.9},{"x":4.3,"y":0.1},{"x":4.9,"y":1.5},{"x":5.4,"y":0.5},{"x":3.5,"y":0.2},
 {"x":5.4,"y":0.9},{"x":5.5,"y":2.3},{"x":5.5,"y":0.4},{"x":5.6,"y":1.4},{"x":5.7,"y":0.2},{"x":5.7,"y":3.0},{"x":5.8,"y":1.9},{"x":5.8,"y":0.7},{"x":5.9,"y":2.6},{"x":6.0,"y":1.2},{"x":6.0,"y":0.0},{"x":6.1,"y":3.3},{"x":6.1,"y":2.0},{"x":6.2,"y":0.6},{"x":6.2,"y":1.6},{"x":6.3,"y":2.8},{"x":6.3,"y":0.3},{"x":6.4,"y":1.0},{"x":6.4,"y":3.5},{"x":6.5,"y":2.2},{"x":6.5,"y":0.6},{"x":6.6,"y":1.5},{"x":6.6,"y":3.0},{"x":6.7,"y":0.9},{"x":6.7,"y":3.9},{"x":6.8,"y":2.5},{"x":6.8,"y":1.2},{"x":6.9,"y":3.4},{"x":6.9,"y":1.7},{"x":7.0,"y":0.8},{"x":7.0,"y":4.2},{"x":7.0,"y":2.8},{"x":7.1,"y":1.4},{"x":7.1,"y":3.6},{"x":7.2,"y":2.0},{"x":7.2,"y":4.5},{"x":7.2,"y":3.2},{"x":7.3,"y":1.7},{"x":7.3,"y":2.5},{"x":7.3,"y":3.8},{"x":7.4,"y":2.2},{"x":7.4,"y":4.1},{"x":7.4,"y":1.5},{"x":7.5,"y":2.8},{"x":7.5,"y":3.5},{"x":7.5,"y":4.4},{"x":7.6,"y":2.4},{"x":7.6,"y":3.1},{"x":7.6,"y":4.7},{"x":7.7,"y":2.7},{"x":7.7,"y":3.9},{"x":7.8,"y":3.3},{"x":7.8,"y":4.5},{"x":7.8,"y":2.6},{"x":7.9,"y":3.7},{"x":7.9,"y":4.8},{"x":8.0,"y":4.2},{"x":8.1,"y":4.0},{"x":5.9,"y":0.2},{"x":6.6,"y":0.4},{"x":7.3,"y":1.2},{"x":7.9,"y":2.9},{"x":6.0,"y":3.5},{"x":5.3,"y":1.8},
 {"x":6.4,"y":0.5},{"x":6.6,"y":0.7},{"x":6.8,"y":0.9},{"x":7.0,"y":1.2},{"x":7.1,"y":1.5},{"x":7.3,"y":1.8},{"x":7.4,"y":2.1},{"x":7.5,"y":2.4},{"x":7.6,"y":2.7},{"x":7.7,"y":3.0},{"x":7.8,"y":3.5},{"x":7.9,"y":4.0},{"x":8.0,"y":4.5},{"x":6.5,"y":0.65},{"x":6.7,"y":0.85},{"x":6.9,"y":1.05},{"x":7.2,"y":1.6},{"x":7.45,"y":2.3},{"x":7.65,"y":2.85},{"x":7.85,"y":3.7}],
 "p3_c": [{"x":1.9,"y":0.3},{"x":2.0,"y":0.31},{"x":2.1,"y":0.29},{"x":2.2,"y":0.3},
 {"x":1.7,"y":0.22},{"x":1.8,"y":0.23},{"x":1.9,"y":0.21},{"x":2.0,"y":0.22},{"x":2.1,"y":0.23},{"x":2.2,"y":0.21},{"x":2.3,"y":0.22},{"x":2.4,"y":0.23},
 {"x":1.65,"y":0.14},{"x":1.75,"y":0.15},{"x":1.85,"y":0.13},{"x":1.95,"y":0.14},{"x":2.05,"y":0.15},{"x":2.15,"y":0.13},{"x":2.25,"y":0.14},{"x":2.35,"y":0.15},{"x":2.45,"y":0.13},{"x":2.55,"y":0.14},
 {"x":1.7,"y":0.06},{"x":1.8,"y":0.07},{"x":1.9,"y":0.05},{"x":2.0,"y":0.06},{"x":2.1,"y":0.07},{"x":2.2,"y":0.05},{"x":2.3,"y":0.06},{"x":2.4,"y":0.07},{"x":2.5,"y":0.05},
 {"x":1.8,"y":-0.02},{"x":1.9,"y":-0.01},{"x":2.0,"y":-0.03},{"x":2.1,"y":-0.02},{"x":2.2,"y":-0.01},{"x":2.3,"y":-0.03}],
 "p4_s": [{"x":2.6,"y":0.3},{"x":2.7,"y":0.2},{"x":2.8,"y":0.4},{"x":2.9,"y":0.15},{"x":3.0,"y":0.5},{"x":3.0,"y":0.3},{"x":3.1,"y":0.6},{"x":3.2,"y":0.35},{"x":3.3,"y":0.45},{"x":2.7,"y":-0.1},{"x":2.8,"y":-0.15},{"x":2.9,"y":-0.2},{"x":3.0,"y":-0.1},{"x":2.6,"y":0.45},{"x":3.4,"y":0.2},{"x":3.5,"y":0.4},{"x":3.1,"y":0.1},{"x":2.75,"y":0.05},{"x":2.9,"y":0.35},{"x":3.2,"y":0.6},{"x":2.5,"y":0.35},{"x":2.45,"y":-0.05},
 {"x":1.65,"y":-0.72},{"x":1.75,"y":-0.64},{"x":1.85,"y":-0.55},{"x":1.95,"y":-0.47},{"x":2.05,"y":-0.38},
 {"x":3.6,"y":0.7},{"x":3.8,"y":0.3},{"x":3.9,"y":1.0},{"x":4.0,"y":0.5},{"x":4.1,"y":0.2},{"x":4.2,"y":0.8},{"x":4.3,"y":1.2},{"x":4.4,"y":0.4},{"x":4.5,"y":0.9},{"x":4.6,"y":1.4},{"x":4.7,"y":0.6},{"x":4.8,"y":1.1},{"x":4.9,"y":0.3},{"x":5.0,"y":1.7},{"x":5.1,"y":0.8},{"x":5.2,"y":0.4},{"x":5.3,"y":1.3},{"x":5.4,"y":0.6},{"x":4.0,"y":1.3},{"x":4.5,"y":0.1},{"x":3.7,"y":0.1},{"x":5.0,"y":0.5},{"x":4.6,"y":1.9},{"x":5.5,"y":0.5},{"x":4.3,"y":0.7},
 {"x":5.4,"y":1.2},{"x":5.5,"y":2.2},{"x":5.6,"y":0.7},{"x":5.7,"y":1.6},{"x":5.8,"y":2.7},{"x":5.8,"y":0.3},{"x":5.9,"y":1.1},{"x":6.0,"y":2.0},{"x":6.0,"y":3.1},{"x":6.1,"y":0.5},{"x":6.1,"y":1.4},{"x":6.2,"y":2.5},{"x":6.2,"y":0.9},{"x":6.3,"y":3.3},{"x":6.3,"y":1.7},{"x":6.4,"y":0.3},{"x":6.4,"y":2.2},{"x":6.5,"y":0.6},{"x":6.5,"y":2.9},{"x":6.5,"y":1.3},{"x":6.6,"y":3.5},{"x":6.6,"y":1.9},{"x":6.7,"y":0.8},{"x":6.7,"y":2.6},{"x":6.8,"y":3.2},{"x":6.8,"y":1.3},{"x":6.9,"y":2.0},{"x":6.9,"y":3.7},{"x":7.0,"y":1.7},{"x":7.0,"y":2.8},{"x":7.1,"y":3.4},{"x":7.1,"y":1.4},{"x":7.2,"y":2.3},{"x":7.2,"y":4.0},{"x":7.2,"y":3.0},{"x":7.3,"y":1.9},{"x":7.3,"y":3.6},{"x":7.4,"y":2.5},{"x":7.4,"y":4.2},{"x":7.5,"y":3.1},{"x":7.5,"y":3.8},{"x":7.6,"y":2.8},{"x":7.6,"y":4.4},{"x":7.7,"y":3.6},{"x":7.7,"y":4.1},{"x":7.8,"y":4.6},{"x":7.8,"y":3.1},{"x":7.9,"y":4.3},{"x":6.3,"y":0.1},{"x":6.6,"y":0.4},{"x":5.9,"y":0.0},{"x":5.6,"y":0.1},{"x":6.9,"y":1.0},{"x":7.4,"y":1.9},{"x":7.6,"y":2.4},{"x":7.1,"y":3.9},{"x":6.4,"y":3.4},{"x":5.9,"y":2.8},
 {"x":6.0,"y":0.7},{"x":6.2,"y":0.9},{"x":6.4,"y":1.1},{"x":6.6,"y":1.3},{"x":6.8,"y":1.6},{"x":7.0,"y":1.9},{"x":7.1,"y":2.2},{"x":7.3,"y":2.5},{"x":7.4,"y":2.8},{"x":7.5,"y":3.1},{"x":7.6,"y":3.4},{"x":7.7,"y":3.8},{"x":7.8,"y":4.2},{"x":7.9,"y":4.5},{"x":6.1,"y":0.8},{"x":6.3,"y":1.0},{"x":6.5,"y":1.2},{"x":6.7,"y":1.45},{"x":6.9,"y":1.75},{"x":7.2,"y":2.35},{"x":7.55,"y":3.25},{"x":7.75,"y":4.0}],
 "p4_c": [{"x":1.8,"y":0.25},{"x":1.9,"y":0.26},{"x":2.0,"y":0.24},{"x":2.1,"y":0.25},{"x":2.2,"y":0.26},{"x":2.3,"y":0.24},
 {"x":1.7,"y":0.17},{"x":1.8,"y":0.18},{"x":1.9,"y":0.16},{"x":2.0,"y":0.17},{"x":2.1,"y":0.18},{"x":2.2,"y":0.16},{"x":2.3,"y":0.17},{"x":2.4,"y":0.18},{"x":2.5,"y":0.16},
 {"x":1.75,"y":0.09},{"x":1.85,"y":0.1},{"x":1.95,"y":0.08},{"x":2.05,"y":0.09},{"x":2.15,"y":0.1},{"x":2.25,"y":0.08},{"x":2.35,"y":0.09},{"x":2.45,"y":0.1},{"x":2.55,"y":0.08},{"x":2.65,"y":0.09},
 {"x":1.9,"y":0.01},{"x":2.0,"y":0.02},{"x":2.1,"y":0.0},{"x":2.2,"y":0.01},{"x":2.3,"y":0.02},{"x":2.4,"y":0.0},{"x":2.5,"y":0.01}],
 "p5_s": [{"x":2.8,"y":0.25},{"x":2.9,"y":0.3},{"x":3.0,"y":0.35},{"x":3.1,"y":0.3},{"x":3.2,"y":0.45},{"x":2.95,"y":0.2},{"x":3.1,"y":0.15},{"x":3.0,"y":0.05},{"x":2.9,"y":0.1},{"x":3.2,"y":0.1},{"x":3.3,"y":0.2},
 {"x":2.4,"y":-0.12},{"x":2.5,"y":-0.06},{"x":2.6,"y":0.0},{"x":2.7,"y":0.05},{"x":2.8,"y":0.1},{"x":2.9,"y":0.05},{"x":3.0,"y":0.02},{"x":3.1,"y":0.05},
 {"x":3.2,"y":0.3},{"x":3.4,"y":0.35},{"x":3.6,"y":0.3},{"x":3.8,"y":0.4},{"x":4.0,"y":0.45},{"x":4.2,"y":0.4},{"x":4.4,"y":0.5},{"x":4.6,"y":0.55},{"x":4.8,"y":0.5},{"x":5.0,"y":0.55},{"x":5.2,"y":0.6},{"x":5.4,"y":0.6},{"x":3.5,"y":0.5},{"x":3.9,"y":0.6},{"x":4.3,"y":0.65},{"x":4.7,"y":0.7},{"x":5.1,"y":0.75},{"x":4.1,"y":0.3},{"x":4.5,"y":0.35},{"x":3.3,"y":0.4},{"x":3.7,"y":0.45},{"x":4.9,"y":0.6},
 {"x":3.0,"y":0.5},{"x":3.2,"y":0.6},{"x":3.4,"y":0.8},{"x":3.6,"y":0.9},{"x":3.8,"y":1.0},{"x":4.0,"y":1.1},{"x":4.2,"y":1.3},{"x":4.4,"y":1.2},{"x":4.6,"y":1.4},{"x":4.8,"y":1.6},{"x":5.0,"y":1.7},{"x":5.2,"y":1.9},{"x":5.4,"y":2.1},{"x":5.6,"y":2.3},{"x":4.5,"y":0.9},{"x":4.9,"y":1.2},{"x":5.3,"y":1.5},{"x":3.7,"y":0.7},{"x":4.1,"y":0.8},{"x":5.0,"y":1.0},{"x":5.5,"y":1.3},{"x":3.9,"y":1.4},{"x":5.8,"y":2.5},
 {"x":5.6,"y":0.7},{"x":5.8,"y":0.6},{"x":5.9,"y":0.55},{"x":6.0,"y":0.6},{"x":5.9,"y":0.9},{"x":6.1,"y":1.1},{"x":6.3,"y":1.4},{"x":6.5,"y":1.8},{"x":6.7,"y":2.2},{"x":6.9,"y":2.6},{"x":7.0,"y":3.0},{"x":7.2,"y":3.4},{"x":7.3,"y":3.7},{"x":7.4,"y":4.0},{"x":7.5,"y":3.9},
 {"x":5.9,"y":2.2},{"x":6.1,"y":2.6},{"x":6.3,"y":2.9},{"x":6.5,"y":3.1},{"x":6.6,"y":3.3},{"x":6.8,"y":3.5},{"x":7.0,"y":3.6},{"x":7.2,"y":3.8},
 {"x":6.0,"y":1.5},{"x":6.2,"y":2.0},{"x":6.4,"y":2.4},{"x":6.6,"y":2.7},{"x":6.8,"y":3.0},{"x":7.0,"y":3.3},{"x":6.3,"y":1.7},{"x":6.5,"y":2.1},{"x":6.7,"y":2.5},{"x":6.9,"y":2.9},{"x":7.1,"y":3.2},{"x":6.1,"y":1.8},{"x":6.4,"y":2.7},{"x":6.6,"y":3.0},{"x":6.8,"y":2.3},{"x":7.0,"y":2.8},{"x":7.2,"y":3.1},{"x":5.8,"y":1.3},{"x":5.6,"y":1.0},{"x":6.0,"y":1.2},{"x":7.3,"y":3.3},{"x":7.4,"y":3.6},{"x":6.9,"y":3.2},{"x":5.7,"y":1.6},{"x":5.5,"y":0.9},{"x":5.5,"y":1.2},
 {"x":5.8,"y":0.8},{"x":6.0,"y":1.0},{"x":6.2,"y":1.3},{"x":6.4,"y":1.6},{"x":6.6,"y":2.0},{"x":6.8,"y":2.4},{"x":6.9,"y":2.8},{"x":7.1,"y":3.1},{"x":7.2,"y":3.5},{"x":7.3,"y":3.8},{"x":7.4,"y":4.0},{"x":5.9,"y":0.85},{"x":6.1,"y":1.15},{"x":6.3,"y":1.45},{"x":6.5,"y":1.8},{"x":6.7,"y":2.25},{"x":7.0,"y":2.95},{"x":7.25,"y":3.6}],
 "p5_c": [{"x":2.0,"y":0.21},{"x":2.1,"y":0.21},{"x":2.2,"y":0.21},{"x":2.3,"y":0.21},{"x":2.4,"y":0.21},{"x":2.5,"y":0.21},{"x":2.6,"y":0.21},
 {"x":1.95,"y":0.15},{"x":2.05,"y":0.15},{"x":2.15,"y":0.15},{"x":2.25,"y":0.15},{"x":2.35,"y":0.15},{"x":2.45,"y":0.15},{"x":2.55,"y":0.15},{"x":2.65,"y":0.15},{"x":2.75,"y":0.15},
 {"x":2.3,"y":0.1},{"x":2.4,"y":0.1},{"x":2.5,"y":0.1},{"x":2.6,"y":0.1},{"x":2.7,"y":0.1},{"x":2.8,"y":0.1},
 {"x":2.5,"y":0.27},{"x":2.6,"y":0.27},{"x":2.7,"y":0.27},{"x":2.8,"y":0.27}]
},
"vconcat": [
 {
  "hconcat": [
   {"width": 25.25, "height": 1, "data": {"values": [{"v": 0}]}, "mark": {"type": "point", "opacity": 0}, "encoding": {}, "view": {"stroke": null}},
   {
    "width": 203.3, "height": 224,
    "encoding": {
     "x": {"field": "x", "type": "quantitative", "scale": {"domain": [-2400, 55700], "nice": false, "zero": false}, "axis": {"values": [0, 20000, 40000], "format": "d", "title": null}},
     "y": {"field": "y", "type": "quantitative", "scale": {"domain": [-0.048, 1.0252], "nice": false, "zero": false}, "axis": {"values": [0, 0.2, 0.4, 0.6, 0.8, 1.0], "format": ".1f", "title": null}}
    },
    "layer": [
     {"data": {"name": "bef_s"}, "mark": {"type": "circle", "size": 7, "opacity": 0.8, "color": "#808080"}},
     {"data": {"name": "bef_c"}, "mark": {"type": "circle", "size": 16, "opacity": 0.85, "color": "#808080"}},
     {"data": {"values": [{"x": -12975, "y": 1.219, "x2": -12975, "y2": -0.156}, {"x": -13404, "y": -0.149, "x2": 125895, "y2": -0.149}, {"x": -4687, "y": 1.1893, "x2": 131354, "y2": 1.1893}]},
      "mark": {"type": "rule", "color": "#000", "strokeWidth": 3}, "encoding": {"x2": {"field": "x2"}, "y2": {"field": "y2"}}},
     {"data": {"values": [{"x": -12975, "y": 1.219}]}, "mark": {"type": "point", "shape": "triangle-up", "filled": true, "size": 90, "color": "#000", "opacity": 1}},
     {"data": {"values": [{"x": 126070, "y": -0.149}]}, "mark": {"type": "point", "shape": "triangle-right", "filled": true, "size": 90, "color": "#000", "opacity": 1}},
     {"data": {"values": [{"x": -31838, "y": 1.207, "label": "A"}]}, "mark": {"type": "text", "fontSize": 39, "fontWeight": "bold", "align": "left", "baseline": "alphabetic", "color": "#222"}, "encoding": {"text": {"field": "label"}}},
     {"data": {"values": [{"x": 63905, "y": 1.2501, "label": "Filtering"}, {"x": 23893, "y": 1.0393, "label": "Before"}]}, "mark": {"type": "text", "fontSize": 27, "align": "center", "baseline": "alphabetic"}, "encoding": {"text": {"field": "label"}}},
     {"data": {"values": [{"x": 125638, "y": -0.277, "label": "Read count"}]}, "mark": {"type": "text", "fontSize": 27, "align": "right", "baseline": "alphabetic"}, "encoding": {"text": {"field": "label"}}},
     {"data": {"values": [{"x": -28751, "y": 0.5074, "label": "mitochondrial"}, {"x": -18834, "y": 0.5074, "label": "genes / total genes"}]}, "mark": {"type": "text", "fontSize": 28, "angle": 270, "align": "center", "baseline": "middle"}, "encoding": {"text": {"field": "label"}}}
    ]
   },
   {
    "width": 204.3, "height": 220.7,
    "title": {"text": "After", "offset": -2.7, "dx": -9.5},
    "data": {"name": "aft_s"},
    "encoding": {
     "x": {"field": "x", "type": "quantitative", "scale": {"domain": [-1980, 55740], "nice": false, "zero": false}, "axis": {"values": [0, 20000, 40000], "format": "d", "title": null}},
     "y": {"field": "y", "type": "quantitative", "scale": {"domain": [-0.0072, 0.1056], "nice": false, "zero": false}, "axis": {"values": [0, 0.02, 0.04, 0.06, 0.08, 0.1], "format": ".2f", "title": null}}
    },
    "layer": [
     {"mark": {"type": "circle", "size": 7, "opacity": 0.8, "color": "#808080"}},
     {"data": {"name": "aft_c"}, "mark": {"type": "circle", "size": 18, "opacity": 0.7, "color": "#808080"}}
    ]
   }
  ],
  "spacing": 55.7,
  "bounds": "flush"
 },
 {
  "hconcat": [
   {"width": 1, "height": 1, "data": {"values": [{"v": 0}]}, "mark": {"type": "point", "opacity": 0}, "encoding": {}, "view": {"stroke": null}},
   {
    "width": 200.6, "height": 218.3,
    "encoding": {
     "x": {"field": "x", "type": "quantitative", "scale": {"domain": [-0.329, 9.341], "nice": false, "zero": false}, "axis": {"values": [0, 2.5, 5, 7.5], "format": ".1f", "title": null}},
     "y": {"field": "y", "type": "quantitative", "scale": {"domain": [-0.294, 6.614], "nice": false, "zero": false}, "axis": {"values": [0, 1, 2, 3, 4, 5, 6], "format": "d", "title": null}}
    },
    "layer": [
     {"data": {"name": "p1_s"}, "mark": {"type": "circle", "size": 9, "opacity": 0.75, "color": "#808080"}},
     {"data": {"name": "p1_c"}, "mark": {"type": "circle", "size": 12, "opacity": 0.85, "color": "#808080"}},
     {"data": {"values": [{"x": -1.737, "y": 1.747, "x2": -1.737, "y2": -1.408}, {"x": -1.809, "y": -1.361, "x2": 2.886, "y2": -1.361}]},
      "mark": {"type": "rule", "color": "#000", "strokeWidth": 3}, "encoding": {"x2": {"field": "x2"}, "y2": {"field": "y2"}}},
     {"data": {"values": [{"x": -1.737, "y": 1.747}]}, "mark": {"type": "point", "shape": "triangle-up", "filled": true, "size": 90, "color": "#000", "opacity": 1}},
     {"data": {"values": [{"x": 2.886, "y": -1.361}]}, "mark": {"type": "point", "shape": "triangle-right", "filled": true, "size": 90, "color": "#000", "opacity": 1}},
     {"data": {"values": [{"x": -2.942, "y": 6.646, "label": "B"}]}, "mark": {"type": "text", "fontSize": 39, "fontWeight": "bold", "align": "left", "baseline": "alphabetic", "color": "#222"}, "encoding": {"text": {"field": "label"}}},
     {"data": {"values": [{"x": 4.289, "y": 6.908, "label": "No data diffusion"}]}, "mark": {"type": "text", "fontSize": 27, "align": "center", "baseline": "alphabetic"}, "encoding": {"text": {"field": "label"}}},
     {"data": {"values": [{"x": -2.556, "y": 0.807, "label": "Lyz2"}]}, "mark": {"type": "text", "fontSize": 27, "fontStyle": "italic", "angle": 270, "align": "center", "baseline": "middle"}, "encoding": {"text": {"field": "label"}}},
     {"data": {"values": [{"x": 1.155, "y": -2.057, "label": "Sftpc"}]}, "mark": {"type": "text", "fontSize": 27, "fontStyle": "italic", "align": "center", "baseline": "alphabetic"}, "encoding": {"text": {"field": "label"}}}
    ]
   },
   {
    "width": 202.7, "height": 218.3,
    "title": {"text": "t=1", "offset": 3.6},
    "encoding": {
     "x": {"field": "x", "type": "quantitative", "scale": {"domain": [0.911, 8.954], "nice": false, "zero": false}, "axis": {"values": [2.5, 5, 7.5], "format": ".1f", "title": null}},
     "y": {"field": "y", "type": "quantitative", "scale": {"domain": [-1.16, 5.48], "nice": false, "zero": false}, "axis": {"values": [-1, 0, 1, 2, 3, 4, 5], "format": "d", "title": null}}
    },
    "layer": [
     {"data": {"name": "p2_s"}, "mark": {"type": "circle", "size": 9, "opacity": 0.75, "color": "#808080"}},
     {"data": {"name": "p2_c"}, "mark": {"type": "circle", "size": 14, "opacity": 0.9, "color": "#808080"}}
    ]
   },
   {
    "width": 201.7, "height": 218.3,
    "title": {"text": "t=3 (selected)", "offset": 3.6},
    "encoding": {
     "x": {"field": "x", "type": "quantitative", "scale": {"domain": [1.019, 8.489], "nice": false, "zero": false}, "axis": {"values": [2, 4, 6, 8], "format": "d", "title": null}},
     "y": {"field": "y", "type": "quantitative", "scale": {"domain": [-1.08, 5.16], "nice": false, "zero": false}, "axis": {"values": [-1, 0, 1, 2, 3, 4, 5], "format": "d", "title": null}}
    },
    "layer": [
     {"data": {"name": "p3_s"}, "mark": {"type": "circle", "size": 9, "opacity": 0.75, "color": "#808080"}},
     {"data": {"name": "p3_c"}, "mark": {"type": "circle", "size": 14, "opacity": 0.9, "color": "#808080"}}
    ]
   },
   {
    "width": 201.7, "height": 218.3,
    "title": {"text": "t=5", "offset": 3.6},
    "encoding": {
     "x": {"field": "x", "type": "quantitative", "scale": {"domain": [1.22, 8.256], "nice": false, "zero": false}, "axis": {"values": [2, 4, 6, 8], "format": "d", "title": null}},
     "y": {"field": "y", "type": "quantitative", "scale": {"domain": [-1.0, 4.94], "nice": false, "zero": false}, "axis": {"values": [-1, 0, 1, 2, 3, 4], "format": "d", "title": null}}
    },
    "layer": [
     {"data": {"name": "p4_s"}, "mark": {"type": "circle", "size": 9, "opacity": 0.75, "color": "#808080"}},
     {"data": {"name": "p4_c"}, "mark": {"type": "circle", "size": 14, "opacity": 0.9, "color": "#808080"}}
    ]
   },
   {
    "width": 195.5, "height": 218.3,
    "title": {"text": "t=15", "offset": 3.6},
    "encoding": {
     "x": {"field": "x", "type": "quantitative", "scale": {"domain": [1.768, 7.816], "nice": false, "zero": false}, "axis": {"values": [2, 4, 6], "format": "d", "title": null}},
     "y": {"field": "y", "type": "quantitative", "scale": {"domain": [-0.34, 4.25], "nice": false, "zero": false}, "axis": {"values": [0, 1, 2, 3, 4], "format": "d", "title": null}}
    },
    "layer": [
     {"data": {"name": "p5_s"}, "mark": {"type": "circle", "size": 9, "opacity": 0.75, "color": "#808080"}},
     {"data": {"name": "p5_c"}, "mark": {"type": "circle", "size": 14, "opacity": 0.9, "color": "#808080"}}
    ]
   }
  ],
  "spacing": 34.15,
  "bounds": "flush"
 }
],
"spacing": 25.5
}
